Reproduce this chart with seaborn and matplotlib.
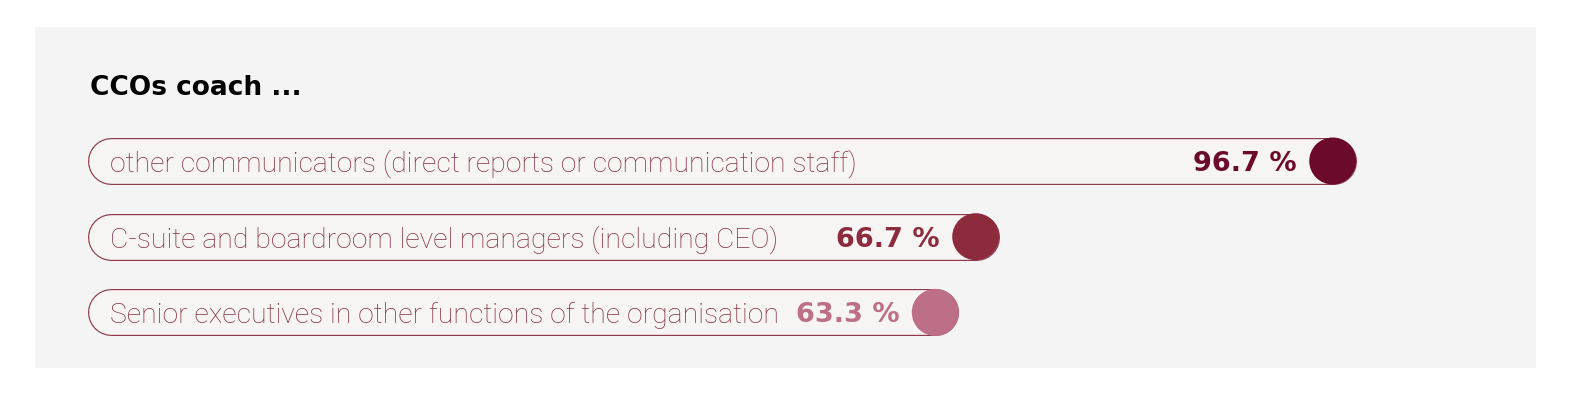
import matplotlib
matplotlib.use("Agg")
import matplotlib.pyplot as plt
from matplotlib.patches import Rectangle
import pandas as pd
import seaborn as sns

# Данные
categories = [
    "other communicators (direct reports or communication staff)",
    "C-suite and boardroom level managers (including CEO)",
    "Senior executives in other functions of the organisation",
]
values = [96.7, 66.7, 63.3]
colors = ["#6B0A2A", "#8C2B3E", "#BD6F87"]
title = "CCOs coach ..."

df = pd.DataFrame({"label": categories, "value": values, "row": range(len(values))})

sns.set_theme(style="white")
plt.rcParams["font.family"] = ["Roboto", "DejaVu Sans"]

W, H, DPI = 1574, 398, 100
fig = plt.figure(figsize=(W / DPI, H / DPI), dpi=DPI, facecolor="white")
ax = fig.add_axes([0, 0, 1, 1])
ax.set_facecolor("white")

# масштаб: px = 182 + v * 11.9, строки через ~75.7 px
px0, ppv = 182, 11.9
ax.set_xlim(-px0 / ppv, (W - px0) / ppv)
row0, rowstep = 161, 75.7
ax.set_ylim((H - row0) / rowstep, -row0 / rowstep)
ax.axis("off")

# серая подложка
ax.add_patch(Rectangle((35 / W, 1 - 368 / H), (1536 - 35) / W, (368 - 27) / H,
                       transform=ax.transAxes, facecolor="#F4F4F4",
                       edgecolor="none", zorder=0))

bar_h_pt = 47 * 72 / DPI
start = -(px0 - 87 - 23.5) / ppv
outline = "#8E3A4C"

for _, r in df.iterrows():
    ax.plot([start, r.value], [r.row, r.row], color=outline, lw=bar_h_pt,
            solid_capstyle="round", zorder=2)
    ax.plot([start, r.value], [r.row, r.row], color="#F7F4F4", lw=bar_h_pt - 1.7,
            solid_capstyle="round", zorder=3)
    ax.text(start, r.row, r.label, ha="left", va="center_baseline",
            fontsize=20.4, fontweight="light", color="#83303F", zorder=5)
    ax.text(r.value - 3.0, r.row, f"{r.value:.1f} %", ha="right", va="center_baseline",
            fontsize=19.5, fontweight="bold", color=colors[int(r.row)],
            family=["DejaVu Sans"], zorder=5)

sns.scatterplot(data=df, x="value", y="row", hue="label", palette=colors,
                s=bar_h_pt ** 2, edgecolor="none", legend=False, ax=ax, zorder=6)

fig.text(90 / W, 1 - 95 / H, title, ha="left", va="baseline", fontsize=19,
         fontweight="bold", color="black", family=["DejaVu Sans"])

fig.savefig("out.png", dpi=DPI, facecolor="white")
